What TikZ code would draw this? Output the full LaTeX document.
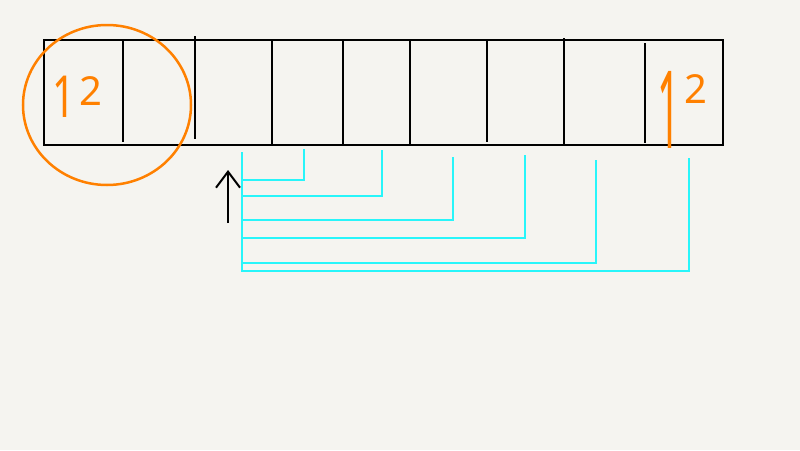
\documentclass[tikz,border=0pt]{standalone}
\usepackage{fontspec}
\setmainfont{Noto Sans}
\usetikzlibrary{arrows.meta}
\definecolor{cfond}{RGB}{245,244,240}
\definecolor{corange}{RGB}{255,128,0}
\definecolor{ccyan}{RGB}{40,245,250}
\newcommand{\tallone}[2]{\raisebox{#2}{\scalebox{1}[#1]{1}}}

\begin{document}
\begin{tikzpicture}[x=1pt, y=-1pt, >={Straight Barb[length=16pt,width=24pt]}]
\useasboundingbox[fill=cfond] (0,0) rectangle (800,450);
% the array of cells
\draw[line width=2pt] (44,40) rectangle (723,145);
\foreach \x/\t/\b in {123/40/142,195/36/139,272/40/145,343/40/145,410/40/145,487/40/142,564/38/145,645/43/143}
  {\draw[line width=2pt] (\x,\t) -- (\x,\b);}
% orange marks
\draw[corange, line width=2.5pt] (107,105) ellipse (84 and 80);
\node[corange, inner sep=0, anchor=base west, font=\fontsize{40}{40}\selectfont] (first) at (52,105)
  {\tallone{1.45}{-12pt}\hspace{4pt}2};
\node[corange, inner sep=0, anchor=base west, font=\fontsize{40}{40}\selectfont] (last) at (657,103)
  {\tallone{2.7}{-45pt}\hspace{4pt}2};
% pointer
\coordinate (ptail) at (228,223); \coordinate (phead) at (228,170);
\draw[->, line width=2pt] (ptail) -- (phead);
% cyan brackets
\coordinate (p) at (242,152); \coordinate (q) at (242,272);
\draw[ccyan, line width=1.5pt] (p) -- (q);
\foreach \n/\xr/\yt/\yb in {1/304/149/180,2/382/150/196,3/453/157/220,4/525/155/238,5/596/160/263,6/689/158/271}
  {\coordinate (t\n) at (\xr,\yt);
   \draw[ccyan, line width=1.5pt] (t\n) |- (p |- 0,\yb);}
\end{tikzpicture}
\end{document}
